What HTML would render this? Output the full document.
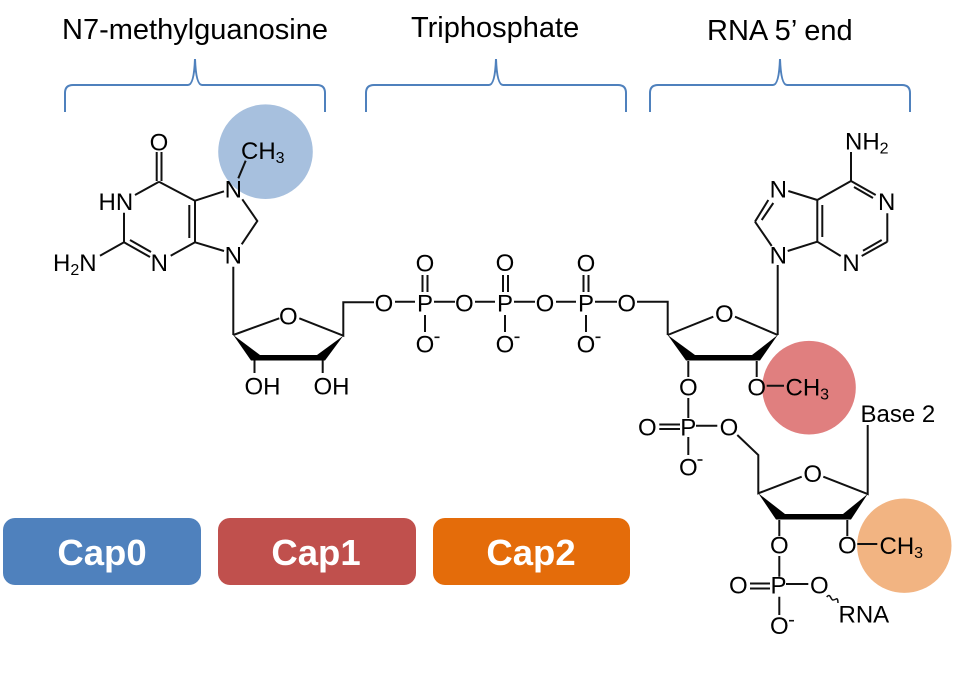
<!DOCTYPE html>
<html><head><meta charset="utf-8"><style>
html,body{margin:0;padding:0;background:#fff}
svg{display:block}
text{font-family:"Liberation Sans",sans-serif;fill:#000}
.a{font-size:24px;text-anchor:middle}
.s{font-size:24px}
.sub{font-size:16px}
.t{font-size:29px}
.b{font-size:36.5px;font-weight:bold;fill:#fff;text-anchor:middle}
.l{fill:none;stroke:#111;stroke-width:2}
.br{fill:none;stroke:#4f81bd;stroke-width:2}
</style></head><body>
<svg width="975" height="673" viewBox="0 0 975 673" xmlns="http://www.w3.org/2000/svg">
<rect width="975" height="673" fill="#fff"/>
<circle cx="265.5" cy="151.7" r="47.3" fill="#a7c0de"/>
<circle cx="809" cy="387.7" r="46.8" fill="#e07f7f"/>
<circle cx="904.3" cy="545.7" r="47.2" fill="#f2b482"/>

<text class="t" x="62" y="39">N7-methylguanosine</text>
<text class="t" x="411" y="37">Triphosphate</text>
<text class="t" x="707" y="40">RNA 5’ end</text>

<path class="br" d="M65 112V93Q65 85 73 85H188Q194 85 195 59Q196 85 202 85H317Q325 85 325 93V112"/>
<path class="br" d="M366 112V93Q366 85 374 85H489Q495 85 496 59Q497 85 503 85H618Q626 85 626 93V112"/>
<path class="br" d="M650 112V93Q650 85 658 85H773Q779 85 780 59Q781 85 787 85H902Q910 85 910 93V112"/>

<!-- guanine -->
<path class="l" d="M156.7 152V181M161.5 152V181M159 181.7L135 195M124 212.7V242.3M124 242.3L150 257M130 240L151 252M124 242.3L100 255.7M170.7 255.7L195 242.3M195 242.3V200.7M189.3 205V238M195 200.7L159 181.7M195 200.7L224 191.3M195 242.3L224 251M242.3 199.3L257.3 221L241.7 244.3M238.3 178.3L245.7 160.7M233.3 266.7V335"/>
<text class="a" x="159" y="150.5">O</text>
<text class="s" x="98.5" y="210">HN</text>
<text class="s" x="53" y="271">H<tspan class="sub" dy="4">2</tspan><tspan dy="-4">N</tspan></text>
<text class="a" x="159.3" y="271">N</text>
<text class="a" x="233.3" y="197.7">N</text>
<text class="a" x="233.3" y="263.3">N</text>
<text class="s" x="241" y="159">CH<tspan class="sub" dy="4">3</tspan></text>

<!-- sugar 1 -->
<path class="l" d="M233.3 335L279.3 318.3M299.3 318.3L343.3 335.7V302.3H374M254.5 360V373M322.7 360V373"/>
<path d="M233.3 335L251 360.5H258L260 355Z" fill="#000"/>
<path d="M343.3 335.7L317 355L319 360.5H325Z" fill="#000"/>
<rect x="253" y="355" width="71" height="5.5" fill="#000"/>
<text class="a" x="288.3" y="324.5">O</text>
<text class="s" x="244.5" y="394.5">OH</text>
<text class="s" x="313.5" y="394.5">OH</text>

<!-- triphosphate -->
<path class="l" d="M395 301.7H415M434 301.7H455M475 301.7H495M514 301.7H535M556 301.7H576M595 301.7H617M637 301.7H667.7V335M422.5 275V292M427.5 275V292M425 315V332M503 275V292M508 275V292M505 315V332M583.5 275V292M588.5 275V292M586 315V332"/>
<text class="a" x="384" y="311.5">O</text><text class="a" x="425" y="311.5">P</text>
<text class="a" x="464.3" y="311.5">O</text><text class="a" x="505" y="311.5">P</text>
<text class="a" x="545" y="311.5">O</text><text class="a" x="586" y="311.5">P</text>
<text class="a" x="626.7" y="311.5">O</text>
<text class="a" x="425" y="271.5">O</text><text class="a" x="505" y="271">O</text><text class="a" x="586" y="271.5">O</text>
<text class="a" x="425" y="352.5">O</text><text class="a" x="505" y="352.5">O</text><text class="a" x="586" y="352.5">O</text>
<path d="M434.5 337.3H439.5M514.5 337.3H519.5M595.5 337.3H600.5" stroke="#111" stroke-width="1.6" fill="none"/>

<!-- adenine -->
<path class="l" d="M851 152V181M851 181L875.7 195M854 187L873 198M887.3 213.3V241.7M887.3 241.7L861.7 256M881.7 240L863 250.7M840.7 256L817.3 241.7M817.3 241.7V200M822.3 205V237M817.3 200L851 181M817.3 200L788.3 191M768.3 200L755 221.7M773.3 203L761.7 220M755 221.7L771.7 246M817.3 241.7L787.7 251M777.7 265V335"/>
<text class="s" x="845" y="149.3">NH<tspan class="sub" dy="4">2</tspan></text>
<text class="a" x="886.7" y="210">N</text>
<text class="a" x="851" y="271">N</text>
<text class="a" x="778.3" y="197.7">N</text>
<text class="a" x="778.3" y="263.3">N</text>

<!-- sugar 2 -->
<path class="l" d="M777.7 335L735 316.7M713.3 316.7L667.7 335M688.3 361V377M688.3 398V418M756.7 361V377M766.7 385.7H784M659.3 424.5H680M659.3 429H680M696 425.7H717.3M688.3 437V455"/>
<path d="M667.7 335L686 360.5H693L695 355Z" fill="#000"/>
<path d="M777.7 335L752 355L754 360.5H760Z" fill="#000"/>
<rect x="687" y="355" width="72" height="5.5" fill="#000"/>
<text class="a" x="724.3" y="322">O</text>
<text class="a" x="688.3" y="395.5">O</text>
<text class="a" x="756.7" y="395.5">O</text>
<text class="s" x="785.5" y="395.5">CH<tspan class="sub" dy="4">3</tspan></text>
<text class="a" x="647.3" y="435.5">O</text>
<text class="a" x="688.3" y="435.5">P</text>
<text class="a" x="729" y="435.5">O</text>
<text class="a" x="688.3" y="475.5">O</text>
<path d="M697.5 460H702.5" stroke="#111" stroke-width="1.6" fill="none"/>
<text class="s" x="860.5" y="422">Base 2</text>

<!-- sugar 3 -->
<path class="l" d="M737.3 435L758.3 455V493.3L801.7 476.7M823.3 476.7L867.7 494V425M779.3 520V536M779.3 556V576.7M847.3 520V536M857.3 544H877.3M750 583.5H770M750 588.5H770M786 584H808.3M779.3 596.7V615"/>
<path d="M758.3 493.3L776 519.5H783L785 514Z" fill="#000"/>
<path d="M867.7 494L843 514L845 519.5H851Z" fill="#000"/>
<rect x="778" y="514" width="72" height="5.5" fill="#000"/>
<path d="M826.7 597Q829 594 830.5 597T833 600T836 599T838 603" fill="none" stroke="#111" stroke-width="1.5"/>
<text class="a" x="812.7" y="482">O</text>
<text class="a" x="779.3" y="553.7">O</text>
<text class="a" x="847.3" y="553.7">O</text>
<text class="s" x="879.5" y="554">CH<tspan class="sub" dy="4">3</tspan></text>
<text class="a" x="738.3" y="593.7">O</text>
<text class="a" x="778.5" y="593.7">P</text>
<text class="a" x="819.3" y="593.7">O</text>
<text class="a" x="779.3" y="634">O</text>
<path d="M789 620.7H794" stroke="#111" stroke-width="1.6" fill="none"/>
<text class="s" x="838.5" y="622.3">RNA</text>

<!-- buttons -->
<rect x="3" y="518" width="198" height="67" rx="12" fill="#4f81bd"/>
<rect x="218" y="518" width="198" height="67" rx="12" fill="#c0504d"/>
<rect x="433" y="518" width="197" height="67" rx="12" fill="#e46c0a"/>
<text class="b" x="102" y="565">Cap0</text>
<text class="b" x="316" y="565">Cap1</text>
<text class="b" x="531" y="565">Cap2</text>
</svg>
</body></html>
